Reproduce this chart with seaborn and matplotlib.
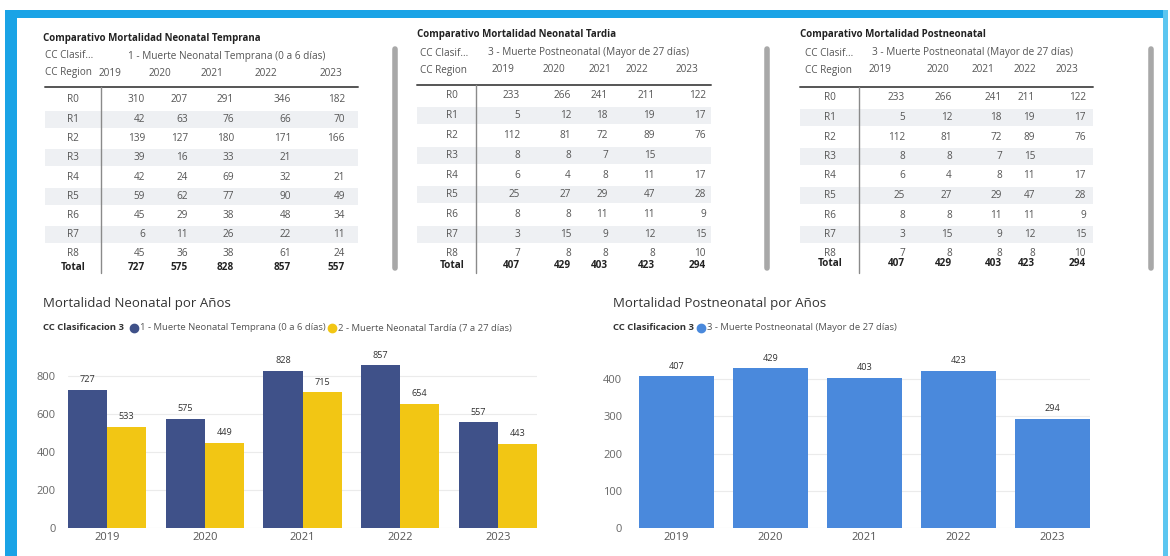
import numpy as np
import pandas as pd
import matplotlib
matplotlib.use("Agg")
import matplotlib.pyplot as plt
import seaborn as sns
from matplotlib.patches import Rectangle

# ---------------- data ----------------
years = ["2019", "2020", "2021", "2022", "2023"]
regions = ["R0", "R1", "R2", "R3", "R4", "R5", "R6", "R7", "R8"]

temprana_region = [
    [310, 207, 291, 346, 182],
    [42, 63, 76, 66, 70],
    [139, 127, 180, 171, 166],
    [39, 16, 33, 21, None],
    [42, 24, 69, 32, 21],
    [59, 62, 77, 90, 49],
    [45, 29, 38, 48, 34],
    [6, 11, 26, 22, 11],
    [45, 36, 38, 61, 24],
]
temprana_total = [727, 575, 828, 857, 557]

postneo_region = [
    [233, 266, 241, 211, 122],
    [5, 12, 18, 19, 17],
    [112, 81, 72, 89, 76],
    [8, 8, 7, 15, None],
    [6, 4, 8, 11, 17],
    [25, 27, 29, 47, 28],
    [8, 8, 11, 11, 9],
    [3, 15, 9, 12, 15],
    [7, 8, 8, 8, 10],
]
postneo_total = [407, 429, 403, 423, 294]

serie_temprana = [727, 575, 828, 857, 557]
serie_tardia = [533, 449, 715, 654, 443]
serie_postneo = [407, 429, 403, 423, 294]

lbl_temprana = "1 - Muerte Neonatal Temprana (0 a 6 días)"
lbl_tardia = "2 - Muerte Neonatal Tardía (7 a 27 días)"
lbl_postneo = "3 - Muerte Postneonatal (Mayor de 27 días)"

# ---------------- style ----------------
sns.set_style("white")
plt.rcParams["font.family"] = ["Open Sans", "DejaVu Sans"]

NAVY = "#3f5189"
YELLOW = "#f2c614"
BLUE = "#4a89dc"
FRAME = "#1aa3e6"
TXT = "#555555"
FS = 7.2

W, H = 1170, 556
fig = plt.figure(figsize=(W / 100, H / 100), dpi=100)
fig.patch.set_facecolor("white")

bg = fig.add_axes([0, 0, 1, 1])
bg.set_xlim(0, W)
bg.set_ylim(H, 0)
bg.axis("off")

# frame
bg.add_patch(Rectangle((5, 10), 12, H - 10, color=FRAME, lw=0))
bg.add_patch(Rectangle((5, 10), 1158, 8, color=FRAME, lw=0))
bg.add_patch(Rectangle((1163, 10), 5, H - 10, color="#5cc6f0", lw=0))


def draw_table(title, clasif, region_vals, totals, cfg):
    bg.text(cfg["tx"], cfg["ty"], title, fontsize=7.0, fontweight="bold",
            color="#222222", va="center", ha="left")
    bg.text(cfg["lx"], cfg["ty"] + 18, "CC Clasif...", fontsize=FS, color=TXT,
            va="center", ha="left")
    bg.text(cfg["cx"], cfg["ty"] + 18, clasif, fontsize=FS, color=TXT,
            va="center", ha="left")
    bg.text(cfg["lx"], cfg["ty"] + 35, "CC Region", fontsize=FS, color=TXT,
            va="center", ha="left")
    for yr, xc in zip(years, cfg["yc"]):
        bg.text(xc, cfg["ty"] + 35, yr, fontsize=FS, color=TXT, va="center", ha="center")
    x0, x1 = cfg["x0"], cfg["x1"]
    rows_y = np.linspace(cfg["r0"], cfg["r8"], len(regions))
    for i, (reg, vals) in enumerate(zip(regions, region_vals)):
        y = rows_y[i]
        if i % 2 == 1:
            bg.add_patch(Rectangle((x0, y - 8.5), x1 - x0, 17, color="#eef0f3", lw=0, zorder=0))
        bg.text(cfg["rl"], y, reg, fontsize=FS, color=TXT, va="center", ha="center")
        for v, xr in zip(vals, cfg["vr"]):
            if v is not None:
                bg.text(xr, y, str(v), fontsize=FS, color=TXT, va="center", ha="right")
    bg.text(cfg["rl"], cfg["tot"], "Total", fontsize=FS, fontweight="bold",
            color="#222222", va="center", ha="center")
    for v, xr in zip(totals, cfg["vr"]):
        bg.text(xr, cfg["tot"], str(v), fontsize=FS, fontweight="bold",
                color="#222222", va="center", ha="right")
    bg.plot([x0, x1], [cfg["hl"], cfg["hl"]], color="#555555", lw=1.4)
    bg.plot([cfg["vl"], cfg["vl"]], [cfg["hl"], 273], color="#8a8a8a", lw=1.0)
    bg.plot([cfg["sb"], cfg["sb"]], [49, 268], color="#a8a8a8", lw=4,
            solid_capstyle="round")


draw_table("Comparativo Mortalidad Neonatal Temprana", lbl_temprana,
           temprana_region, temprana_total,
           dict(tx=43, ty=38, lx=45, cx=128, yc=[110, 160, 212, 266, 331],
                x0=45, x1=358, hl=87, vl=101, rl=73, r0=100, r8=254, tot=267,
                vr=[145, 188, 234, 291, 345], sb=395))
draw_table("Comparativo Mortalidad Neonatal Tardia", lbl_postneo,
           postneo_region, postneo_total,
           dict(tx=417, ty=35, lx=420, cx=488, yc=[503, 554, 600, 637, 687],
                x0=417, x1=711, hl=85, vl=476, rl=452, r0=96, r8=254, tot=265,
                vr=[520, 571, 608, 655, 706], sb=767))
draw_table("Comparativo Mortalidad Postneonatal", lbl_postneo,
           postneo_region, postneo_total,
           dict(tx=800, ty=35, lx=805, cx=872, yc=[880, 938, 983, 1025, 1067],
                x0=800, x1=1093, hl=87, vl=859, rl=830, r0=98, r8=254, tot=264,
                vr=[905, 952, 1002, 1035, 1086], sb=1151))

# ---------------- bar chart titles & legends ----------------
bg.text(43, 303, "Mortalidad Neonatal por Años", fontsize=9.5, color="#333333",
        va="center", ha="left")
bg.text(613, 304, "Mortalidad Postneonatal por Años", fontsize=9.5, color="#333333",
        va="center", ha="left")


def legend_row(x, y, items):
    bg.text(x, y, "CC Clasificacion 3", fontsize=6.8, fontweight="bold",
            color="#333333", va="center", ha="left")
    for cx, col, lab in items:
        bg.plot([cx], [y], marker="o", ms=6, color=col, lw=0)
        bg.text(cx + 6, y, lab, fontsize=6.8, color=TXT, va="center", ha="left")


legend_row(43, 328, [(134, NAVY, lbl_temprana), (332, YELLOW, lbl_tardia)])
legend_row(613, 328, [(701, BLUE, lbl_postneo)])


def px_axes(left, top, right, bottom):
    return fig.add_axes([left / W, 1 - bottom / H, (right - left) / W, (bottom - top) / H])


def style_axes(ax, ymax, step, pad):
    ax.set_ylim(0, ymax)
    ax.set_xlim(-0.4, 4.4)
    ax.set_yticks(np.arange(0, ymax, step))
    ax.yaxis.grid(True, color="#ebebeb", lw=0.8)
    ax.set_axisbelow(True)
    for s in ax.spines.values():
        s.set_visible(False)
    ax.tick_params(axis="y", length=0, pad=pad, labelsize=8, labelcolor="#666666")
    ax.tick_params(axis="x", length=0, pad=3, labelsize=8, labelcolor="#555555")
    ax.set_xlabel("")
    ax.set_ylabel("")
    ax.patch.set_alpha(0)


# left chart
ax1 = px_axes(68, 357, 537, 528)
df1 = pd.DataFrame({
    "Año": years * 2,
    "Muertes": serie_temprana + serie_tardia,
    "Clasificación": [lbl_temprana] * 5 + [lbl_tardia] * 5,
})
sns.barplot(data=df1, x="Año", y="Muertes", hue="Clasificación",
            palette=[NAVY, YELLOW], saturation=1, width=0.8, legend=False,
            linewidth=0, ax=ax1)
for c in ax1.containers:
    ax1.bar_label(c, padding=4, fontsize=6.6, color="#333333")
style_axes(ax1, 900, 200, 9)

# right chart
ax2 = px_axes(639, 353, 1090, 528)
df2 = pd.DataFrame({"Año": years, "Muertes": serie_postneo})
sns.barplot(data=df2, x="Año", y="Muertes", color=BLUE, saturation=1,
            width=0.79, linewidth=0, ax=ax2)
for c in ax2.containers:
    ax2.bar_label(c, padding=4, fontsize=6.6, color="#333333")
style_axes(ax2, 470, 100, 12)

fig.savefig("out.png", dpi=100)
